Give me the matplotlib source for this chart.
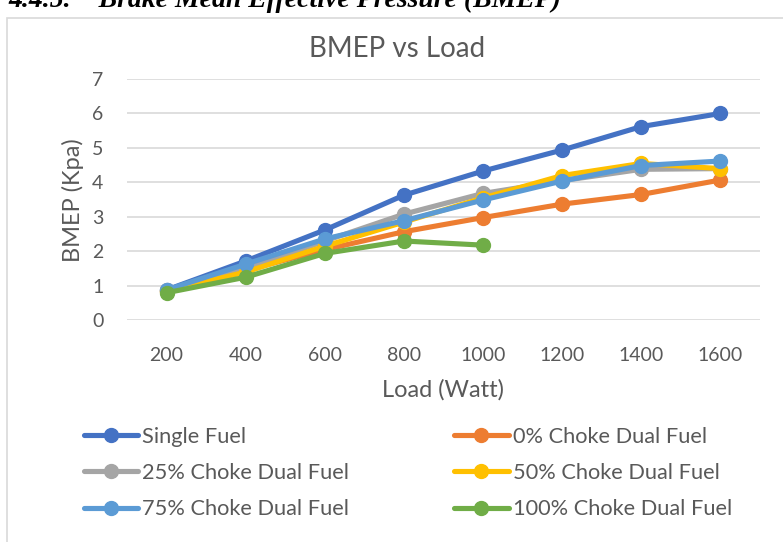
import numpy as np
import matplotlib.pyplot as plt
from matplotlib.patches import Rectangle

plt.rcParams['font.family'] = ['Lato', 'DejaVu Sans']

load = [200, 400, 600, 800, 1000, 1200, 1400, 1600]
single_fuel = [0.88, 1.72, 2.62, 3.63, 4.33, 4.94, 5.62, 6.0]
choke_0 = [0.85, 1.45, 2.05, 2.57, 2.98, 3.37, 3.65, 4.07]
choke_25 = [0.88, 1.5, 2.3, 3.08, 3.68, 4.05, 4.38, 4.4]
choke_50 = [0.85, 1.4, 2.15, 2.85, 3.55, 4.2, 4.55, 4.4]
choke_75 = [0.88, 1.63, 2.36, 2.89, 3.49, 4.04, 4.49, 4.62]
choke_100 = [0.8, 1.25, 1.94, 2.3, 2.18]

series = [
    ('Single Fuel', single_fuel, '#4472C4'),
    ('0% Choke Dual Fuel', choke_0, '#ED7D31'),
    ('25% Choke Dual Fuel', choke_25, '#A5A5A5'),
    ('50% Choke Dual Fuel', choke_50, '#FFC000'),
    ('75% Choke Dual Fuel', choke_75, '#5B9BD5'),
    ('100% Choke Dual Fuel', choke_100, '#70AD47'),
]

text_col = '#595959'
W, H = 783, 542
fig = plt.figure(figsize=(W / 100, H / 100), dpi=100)

# section heading, partly cut off by the page top
fig.text(8 / W, 1 - 7 / H, '4.4.5.    Brake Mean Effective Pressure (BMEP)',
         family='Liberation Serif', weight='bold', style='italic',
         fontsize=20, color='black', va='baseline', ha='left')

# chart frame
fig.patches.append(Rectangle((7 / W, -0.1), 1.2, 1 - 18 / H + 0.1,
                             transform=fig.transFigure, fill=False,
                             edgecolor='#D9D9D9', lw=1.2, zorder=-10))

# chart title, centred on the frame
fig.text(397 / W, 1 - 57 / H, 'BMEP vs Load', fontsize=20, color=text_col,
         ha='center', va='baseline')

ax = fig.add_axes([127 / W, 1 - 320.3 / H, 633 / W, (320.3 - 79) / H])
ax.set_facecolor('none')
pos = np.arange(len(load))
for name, vals, col in series:
    ax.plot(pos[:len(vals)], vals, color=col, lw=3.7, marker='o', ms=10,
            label=name, solid_capstyle='round')

ax.set_xlim(-0.5, len(load) - 0.5)
ax.set_ylim(0, 7)
ax.set_yticks(range(8))
ax.set_xticks(pos)
ax.set_xticklabels(load)
ax.grid(axis='y', color='#D9D9D9', lw=1.2)
ax.set_axisbelow(True)
for s in ax.spines.values():
    s.set_visible(False)
ax.tick_params(length=0, labelsize=14, colors=text_col)
ax.tick_params(axis='x', pad=19)
ax.tick_params(axis='y', pad=17)

ax.set_xlabel('Load (Watt)', fontsize=17, color=text_col, labelpad=11)
ax.set_ylabel('BMEP (Kpa)', fontsize=17, color=text_col, labelpad=6)

# legend filled row by row: left column gets entries 0, 2, 4
handles, labels = ax.get_legend_handles_labels()
order = [0, 2, 4, 1, 3, 5]
leg = fig.legend([handles[i] for i in order], [labels[i] for i in order],
                 ncol=2, loc='upper left',
                 bbox_to_anchor=(64 / W, 1 - 407 / H), frameon=False,
                 fontsize=15.7, handlelength=2.5, handletextpad=0.2,
                 columnspacing=4.8, labelspacing=0.75)
for t in leg.get_texts():
    t.set_color(text_col)

fig.savefig('out.png', dpi=100)
